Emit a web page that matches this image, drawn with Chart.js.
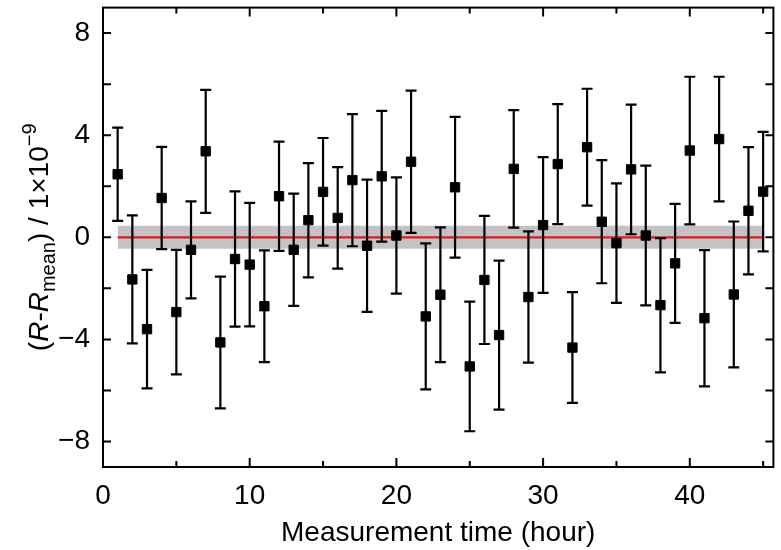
<!DOCTYPE html>
<html>
<head>
<meta charset="utf-8">
<script src="https://cdn.jsdelivr.net/npm/chart.js@4"></script>
<style>
  html, body { margin: 0; padding: 0; background: #fff; }
  #wrap { width: 781px; height: 550px; }
</style>
</head>
<body>
<div id="wrap"><canvas id="chart" width="781" height="550"></canvas></div>
<script>
// ============================================================
// Residual scatter with error bars, mean line and uncertainty band
// ============================================================

const FONT = "'Liberation Sans', Arial, Helvetica, sans-serif";

// measurement hour for each point
const hours = [1, 2, 3, 4, 5, 6, 7, 8, 9, 10, 11, 12, 13, 14, 15, 16, 17, 18, 19, 20, 21, 22, 23,
    24, 25, 26, 27, 28, 29, 30, 31, 32, 33, 34, 35, 36, 37, 38, 39, 40, 41, 42, 43, 44, 45];

// (R - Rmean) in units of 1e-9
const residuals = [2.47, -1.65, -3.60, 1.54, -2.93, -0.49, 3.37, -4.12, -0.85, -1.07, -2.70,
    1.61, -0.49, 0.67, 1.78, 0.76, 2.24, -0.33, 2.39, 0.07, 2.96, -3.10, -2.25, 1.96, -5.06,
    -1.67, -3.83, 2.68, -2.34, 0.48, 2.87, -4.32, 3.53, 0.61, -0.23, 2.66, 0.07, -2.66, -1.02,
    3.40, -3.17, 3.85, -2.24, 1.04, 1.79];

// symmetric error bar half-lengths
const errors = [1.83, 2.51, 2.32, 2.00, 2.44, 1.90, 2.41, 2.58, 2.65, 2.42, 2.19, 2.14, 2.20,
    2.24, 2.11, 1.99, 2.59, 2.59, 2.56, 2.28, 2.79, 2.86, 2.64, 2.76, 2.54, 2.51, 2.92, 2.30,
    2.57, 2.66, 2.35, 2.17, 2.29, 2.41, 2.34, 2.54, 2.74, 2.63, 2.33, 2.89, 2.67, 2.44, 2.86,
    2.49, 2.34];

// mean line and its uncertainty band
const meanSpan = [1, 45];
const meanValue = 0;
const bandHalfWidth = 0.45;

// axis ranges and ticks
const xRange = [0, 45.7];
const yRange = [-9, 9];
const xTicks = [0, 5, 10, 15, 20, 25, 30, 35, 40, 45];
const xLabels = [0, 10, 20, 30, 40];
const yTicks = [-8, -6, -4, -2, 0, 2, 4, 6, 8];
const yLabels = [-8, -4, 0, 4, 8];

const fmtMinus = v => (v < 0 ? '\u2212' + Math.abs(v) : String(v));

/**
 * Error bars, drawn just before the markers so they sit above band and line
 */
const errorBars = {
    id: 'errorBars',
    beforeDatasetDraw(chart, args) {
        if (args.index !== 0) return;
        const { ctx, scales: { x, y } } = chart;
        ctx.save();
        ctx.strokeStyle = '#000';
        ctx.lineWidth = 2.2;
        hours.forEach((h, i) => {
            const px = x.getPixelForValue(h);
            const top = y.getPixelForValue(residuals[i] + errors[i]);
            const bot = y.getPixelForValue(residuals[i] - errors[i]);
            ctx.beginPath();
            ctx.moveTo(px, top); ctx.lineTo(px, bot);
            ctx.moveTo(px - 5.5, top); ctx.lineTo(px + 5.5, top);
            ctx.moveTo(px - 5.5, bot); ctx.lineTo(px + 5.5, bot);
            ctx.stroke();
        });
        ctx.restore();
    },
};

/**
 * Box frame with inward ticks on all four sides, plus the y title
 */
const frame = {
    id: 'frame',
    afterDraw(chart) {
        const { ctx, chartArea: a, scales: { x, y } } = chart;
        ctx.save();
        ctx.strokeStyle = '#000';
        ctx.lineWidth = 2;
        ctx.strokeRect(a.left, a.top, a.right - a.left, a.bottom - a.top);

        ctx.beginPath();
        xTicks.forEach(v => {
            const px = x.getPixelForValue(v);
            const len = xLabels.includes(v) ? 9 : 6;
            ctx.moveTo(px, a.bottom); ctx.lineTo(px, a.bottom - len);
            ctx.moveTo(px, a.top); ctx.lineTo(px, a.top + len);
        });
        yTicks.forEach(v => {
            const py = y.getPixelForValue(v);
            ctx.moveTo(a.left, py); ctx.lineTo(a.left + 8, py);
            ctx.moveTo(a.right, py); ctx.lineTo(a.right - 8, py);
        });
        ctx.stroke();

        // y axis title: (R-R_mean) / 1×10^-9
        const parts = [
            { t: '(', size: 28, style: '', dy: 0 },
            { t: 'R', size: 28, style: 'italic ', dy: 0 },
            { t: '-', size: 28, style: '', dy: 0 },
            { t: 'R', size: 28, style: 'italic ', dy: 0 },
            { t: 'mean', size: 20, style: '', dy: 7 },
            { t: ') / 1\u00d710', size: 28, style: '', dy: 0 },
            { t: '\u22129', size: 20, style: '', dy: -12 },
        ];
        let total = 0;
        parts.forEach(p => {
            ctx.font = `${p.style}${p.size}px ${FONT}`;
            p.w = ctx.measureText(p.t).width;
            total += p.w;
        });
        const cy = (a.top + a.bottom) / 2;
        ctx.translate(48, cy + total / 2);
        ctx.rotate(-Math.PI / 2);
        ctx.fillStyle = '#000';
        ctx.textBaseline = 'alphabetic';
        let cx = 0;
        parts.forEach(p => {
            ctx.font = `${p.style}${p.size}px ${FONT}`;
            ctx.fillText(p.t, cx, p.dy);
            cx += p.w;
        });
        ctx.restore();
    },
};

new Chart(document.getElementById('chart').getContext('2d'), {
    type: 'scatter',
    data: {
        datasets: [
            {
                // measurements
                data: hours.map((h, i) => ({ x: h, y: residuals[i] })),
                pointStyle: 'rect',
                pointRadius: 6.6,
                backgroundColor: '#000',
                borderColor: '#000',
                borderWidth: 1,
            },
            {
                // mean line
                data: meanSpan.map(h => ({ x: h, y: meanValue })),
                showLine: true,
                borderColor: '#e8161d',
                borderWidth: 2.2,
                pointRadius: 0,
            },
            {
                // band upper edge, filled down to the lower edge
                data: meanSpan.map(h => ({ x: h, y: meanValue + bandHalfWidth })),
                showLine: true,
                borderWidth: 0,
                borderColor: 'rgba(0,0,0,0)',
                pointRadius: 0,
                fill: '+1',
                backgroundColor: '#c3c3c3',
            },
            {
                data: meanSpan.map(h => ({ x: h, y: meanValue - bandHalfWidth })),
                showLine: true,
                borderWidth: 0,
                borderColor: 'rgba(0,0,0,0)',
                pointRadius: 0,
                fill: false,
            },
        ],
    },
    options: {
        responsive: false,
        animation: false,
        layout: { padding: { top: 1, right: 2, left: 0, bottom: 0 } },
        plugins: {
            legend: { display: false },
            tooltip: { enabled: false },
        },
        scales: {
            x: {
                type: 'linear',
                min: xRange[0],
                max: xRange[1],
                grid: { display: false, drawTicks: false },
                border: { display: false },
                afterBuildTicks: s => { s.ticks = xLabels.map(v => ({ value: v })); },
                ticks: {
                    autoSkip: false,
                    maxRotation: 0,
                    padding: 12,
                    color: '#000',
                    font: { family: FONT, size: 28 },
                    callback: v => fmtMinus(v),
                },
                title: {
                    display: true,
                    text: 'Measurement time (hour)',
                    color: '#000',
                    font: { family: FONT, size: 28 },
                    padding: { top: 0, bottom: 0 },
                },
                afterFit: s => { s.height = 83; s.paddingLeft = 0; s.paddingRight = 0; },
            },
            y: {
                min: yRange[0],
                max: yRange[1],
                grid: { display: false, drawTicks: false },
                border: { display: false },
                afterBuildTicks: s => { s.ticks = yLabels.map(v => ({ value: v })); },
                ticks: {
                    autoSkip: false,
                    padding: 13,
                    color: '#000',
                    font: { family: FONT, size: 28 },
                    callback: v => fmtMinus(v),
                },
                afterFit: s => { s.width = 103; s.paddingTop = 0; s.paddingBottom = 0; },
            },
        },
    },
    plugins: [errorBars, frame],
});
</script>
</body>
</html>
